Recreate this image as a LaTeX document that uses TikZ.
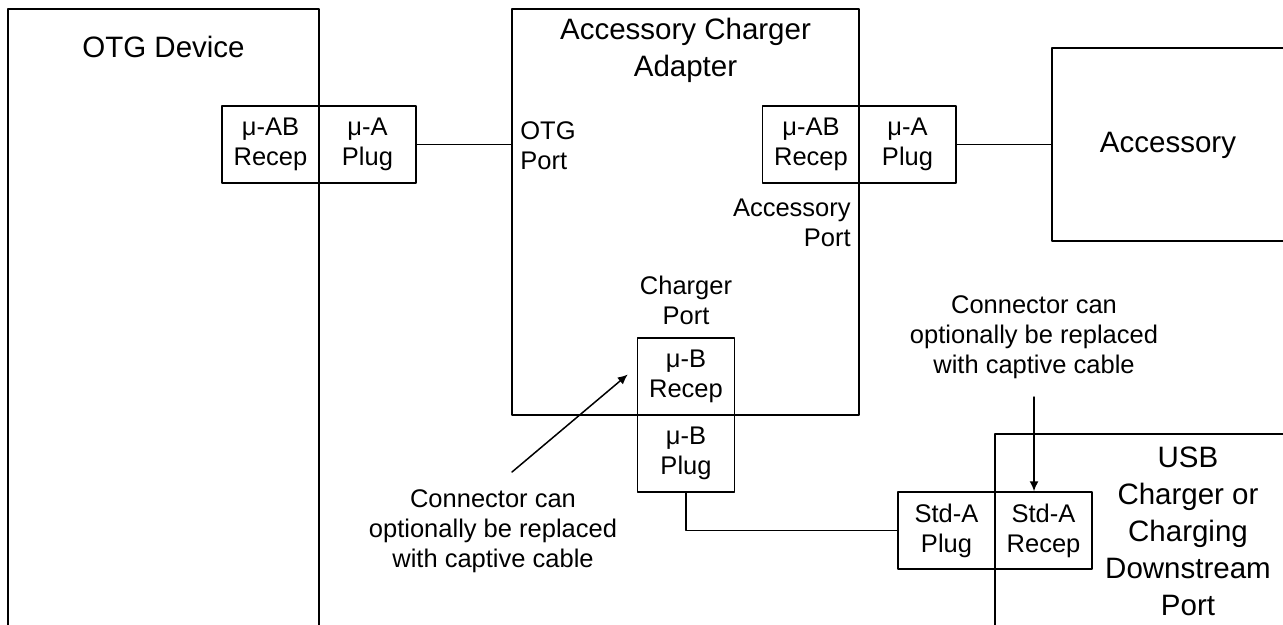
\documentclass[tikz,border=0pt]{standalone}
\usepackage{fontspec}
\setmainfont{Liberation Sans}
\usetikzlibrary{arrows.meta}
\begin{document}
\begin{tikzpicture}[x=0.5pt, y=-0.5pt, line cap=round, line join=round,
    unit/.style={draw, line width=0.75pt, inner sep=0pt},
    half/.style={draw, line width=0.75pt, minimum width=48.5pt, minimum height=38.5pt,
      inner sep=0pt, align=center, font=\fontsize{12.75}{15}\selectfont},
    txt/.style={inner sep=0pt, align=center, font=\fontsize{12.75}{15}\selectfont},
    title/.style={inner sep=0pt, align=center, font=\fontsize{14.75}{18.5}\selectfont},
    wire/.style={line width=0.75pt},
    pointer/.style={line width=0.75pt, -{Latex[length=5pt, width=4.5pt]}}]
  \useasboundingbox (0,0) rectangle (1283,625);
  \clip (0,0) rectangle (1283,625);
  \node[unit, minimum width=155.5pt, minimum height=345.5pt] (otg) at (163.5,354.5) {};
  \node[unit, minimum width=173.5pt, minimum height=203pt] (aca) at (685.5,212) {};
  \node[unit, minimum width=174pt, minimum height=96.5pt] (acc) at (1226,144.5) {};
  \node[unit, minimum width=202.5pt, minimum height=133pt] (usb) at (1197.5,567) {};
  \node[title] (otgname) at (163.5,47) {OTG Device};
  \node[title] (acaname) at (685.5,50) {Accessory Charger\\Adapter};
  \node[title] (accname) at (1168,145) {Accessory};
  \node[title] (usbname) at (1188,531) {USB\\Charger or\\Charging\\Downstream\\Port};
  \node[half] (otgrecep) at (270.5,144.5) {μ-AB\\Recep};
  \node[half] (otgplug) at (367.5,144.5) {μ-A\\Plug};
  \node[half] (accrecep) at (811,144.5) {μ-AB\\Recep};
  \node[half] (accplug) at (907.5,144.5) {μ-A\\Plug};
  \node[half] (chgrecep) at (686,376.5) {μ-B\\Recep};
  \node[half] (chgplug) at (686,453.5) {μ-B\\Plug};
  \node[half] (stdplug) at (946.5,530.5) {Std-A\\Plug};
  \node[half] (stdrecep) at (1043.5,530.5) {Std-A\\Recep};
  \node[txt, align=left, anchor=west] (otgport) at (520,146) {OTG\\Port};
  \node[txt, align=right, anchor=east] (accport) at (851,223) {Accessory\\Port};
  \node[txt] (chgport) at (686,300) {Charger\\Port};
  \node[txt] (capnote1) at (493,531) {Connector can\\optionally be replaced\\with captive cable};
  \node[txt] (capnote2) at (1034,337) {Connector can\\optionally be replaced\\with captive cable};
  \draw[wire] (otgplug.east) -- (otgplug.east -| aca.west);
  \draw[wire] (accplug.east) -- (accplug.east -| acc.west);
  \draw[wire] (chgplug.south) |- (stdplug.west);
  \coordinate (tail1) at (512,472);
  \coordinate (tail2) at (1034,397);
  \draw[pointer] (tail1) -- ([xshift=-4.5pt, yshift=1pt]chgrecep.west);
  \draw[pointer] (tail2) -- (tail2 |- stdrecep.north);
\end{tikzpicture}
\end{document}
